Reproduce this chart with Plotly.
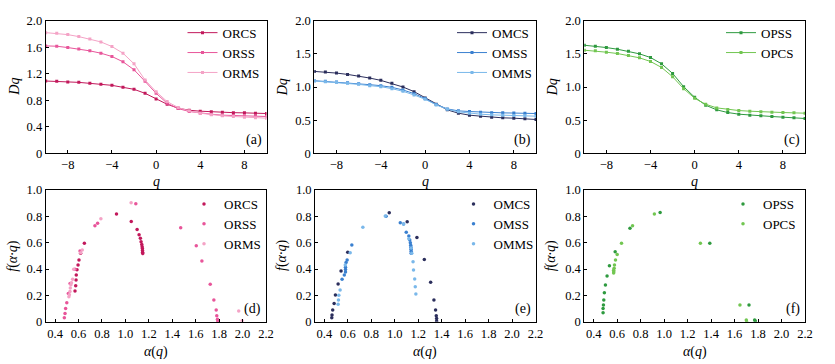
import plotly.graph_objects as go

# ---------------- data ----------------
q = list(range(-10, 11))

ORCS_D = [1.09, 1.085, 1.075, 1.07, 1.055, 1.04, 1.025, 0.995, 0.965, 0.905, 0.82,
          0.74, 0.68, 0.65, 0.635, 0.625, 0.62, 0.613, 0.61, 0.605, 0.60]
ORSS_D = [1.62, 1.615, 1.595, 1.575, 1.545, 1.51, 1.46, 1.38, 1.26, 1.085, 0.905,
          0.755, 0.675, 0.63, 0.605, 0.59, 0.575, 0.57, 0.565, 0.56, 0.555]
ORMS_D = [1.82, 1.81, 1.79, 1.76, 1.725, 1.68, 1.61, 1.51, 1.35, 1.105, 0.93,
          0.78, 0.69, 0.64, 0.605, 0.58, 0.565, 0.555, 0.545, 0.535, 0.53]

OMCS_D = [1.235, 1.225, 1.21, 1.19, 1.165, 1.135, 1.10, 1.055, 1.0, 0.93, 0.835,
          0.74, 0.655, 0.605, 0.575, 0.56, 0.545, 0.535, 0.53, 0.52, 0.51]
OMSS_D = [1.095, 1.085, 1.075, 1.065, 1.05, 1.035, 1.02, 0.995, 0.955, 0.90, 0.825,
          0.735, 0.67, 0.64, 0.63, 0.62, 0.613, 0.61, 0.607, 0.603, 0.60]
OMMS_D = [1.09, 1.08, 1.07, 1.055, 1.04, 1.02, 1.005, 0.975, 0.935, 0.88, 0.815,
          0.73, 0.665, 0.625, 0.605, 0.59, 0.58, 0.575, 0.57, 0.565, 0.56]

OPSS_D = [1.63, 1.615, 1.595, 1.57, 1.54, 1.50, 1.445, 1.35, 1.205, 1.005, 0.845,
          0.725, 0.655, 0.615, 0.59, 0.575, 0.565, 0.555, 0.545, 0.535, 0.525]
OPCS_D = [1.555, 1.545, 1.525, 1.505, 1.475, 1.44, 1.385, 1.295, 1.155, 0.975, 0.83,
          0.74, 0.685, 0.66, 0.645, 0.635, 0.625, 0.62, 0.615, 0.61, 0.605]

ORCS_a = [1.148, 1.147, 1.146, 1.145, 1.143, 1.140, 1.134, 1.128, 1.117, 1.100, 1.050,
          0.924, 0.650, 0.618, 0.604, 0.596, 0.587, 0.581, 0.579, 0.576, 0.570]
ORCS_f = [0.517, 0.527, 0.540, 0.555, 0.570, 0.587, 0.608, 0.633, 0.660, 0.700, 0.760,
          0.818, 0.595, 0.520, 0.468, 0.430, 0.395, 0.354, 0.316, 0.273, 0.233]
ORSS_a = [1.790, 1.789, 1.786, 1.780, 1.775, 1.755, 1.724, 1.653, 1.605, 1.472, 1.089,
          0.763, 0.740, 0.613, 0.570, 0.528, 0.513, 0.500, 0.490, 0.485, 0.479]
ORSS_f = [0.000, 0.005, 0.018, 0.046, 0.089, 0.165, 0.284, 0.461, 0.577, 0.714, 0.896,
          0.747, 0.729, 0.537, 0.398, 0.290, 0.215, 0.144, 0.100, 0.063, 0.030]
ORMS_a = [1.996, 1.967, 1.049, 0.791, 0.632, 0.618, 0.559, 0.550, 0.540, 0.535, 0.530,
          0.527, 0.522, 0.518]
ORMS_f = [0.008, 0.081, 0.904, 0.782, 0.544, 0.524, 0.398, 0.322, 0.295, 0.280, 0.255,
          0.230, 0.205, 0.190]

OMCS_a = [1.357, 1.357, 1.354, 1.348, 1.334, 1.306, 1.252, 1.189, 1.106, 0.953,
          0.599, 0.542, 0.517, 0.494, 0.483, 0.471, 0.465, 0.463]
OMCS_f = [0.005, 0.025, 0.046, 0.089, 0.165, 0.299, 0.473, 0.640, 0.759, 0.828,
          0.527, 0.385, 0.286, 0.203, 0.139, 0.089, 0.050, 0.030]
OMSS_a = [1.140, 1.140, 1.139, 1.138, 1.136, 1.133, 1.128, 1.120, 1.098, 1.075, 1.047,
          0.926, 0.634, 0.594, 0.585, 0.580, 0.580, 0.580, 0.570, 0.551]
OMSS_f = [0.520, 0.535, 0.550, 0.565, 0.580, 0.600, 0.620, 0.650, 0.679, 0.741, 0.752,
          0.800, 0.582, 0.468, 0.450, 0.413, 0.397, 0.377, 0.355, 0.322]
OMMS_a = [1.180, 1.175, 1.170, 1.160, 1.156, 1.145, 1.140, 1.120, 1.075, 0.919, 0.728,
          0.620, 0.578, 0.534, 0.523, 0.520, 0.517]
OMMS_f = [0.210, 0.266, 0.325, 0.393, 0.456, 0.520, 0.560, 0.630, 0.741, 0.802, 0.717,
          0.524, 0.430, 0.241, 0.200, 0.165, 0.132]

OPSS_a = [1.777, 1.771, 1.723, 1.389, 0.966, 0.709, 0.583, 0.534, 0.514, 0.500,
          0.491, 0.486, 0.483, 0.480, 0.480]
OPSS_f = [0.005, 0.013, 0.127, 0.595, 0.830, 0.709, 0.532, 0.425, 0.347, 0.278,
          0.220, 0.165, 0.127, 0.100, 0.068]
OPCS_a = [1.703, 1.700, 1.646, 1.309, 0.917, 0.731, 0.637, 0.600, 0.586, 0.577,
          0.574, 0.571, 0.570, 0.570]
OPCS_f = [0.000, 0.013, 0.127, 0.595, 0.818, 0.729, 0.595, 0.511, 0.468, 0.430,
          0.405, 0.380, 0.390, 0.370]

panel_labels = ["(a)", "(b)", "(c)", "(d)", "(e)", "(f)"]
top_yticks = [[0, 0.4, 0.8, 1.2, 1.6, 2.0], [0, 0.5, 1.0, 1.5, 2.0], [0, 0.5, 1.0, 1.5, 2.0]]
top_xticks = [-8, -4, 0, 4, 8]
bot_xticks = [0.4, 0.6, 0.8, 1.0, 1.2, 1.4, 1.6, 1.8, 2.0, 2.2]
bot_yticks = [0, 0.2, 0.4, 0.6, 0.8, 1.0]

# ---------------- styles ----------------
W, H = 835, 364
FONT = "Liberation Serif"
C = {
    "ORCS": "#c2185b", "ORSS": "#e8559a", "ORMS": "#f4a3c6",
    "OMCS": "#2b2e5c", "OMSS": "#3a80d0", "OMMS": "#7ab8ea",
    "OPSS": "#2e9a3f", "OPCS": "#72c651",
}

def px2x(p):
    return p / W

def px2y(p):
    return 1 - p / H

top_x = [(45.7, 266.5), (314.3, 536.0), (584.3, 805.0)]
bot_x = [(45.7, 266.0), (315.0, 535.5), (584.3, 805.0)]
top_y = (20.7, 153.3)
bot_y = (190.0, 321.7)

fig = go.Figure()

top_series = [
    [("ORCS", ORCS_D), ("ORSS", ORSS_D), ("ORMS", ORMS_D)],
    [("OMCS", OMCS_D), ("OMSS", OMSS_D), ("OMMS", OMMS_D)],
    [("OPSS", OPSS_D), ("OPCS", OPCS_D)],
]
bot_series = [
    [("ORCS", ORCS_a, ORCS_f), ("ORSS", ORSS_a, ORSS_f), ("ORMS", ORMS_a, ORMS_f)],
    [("OMCS", OMCS_a, OMCS_f), ("OMSS", OMSS_a, OMSS_f), ("OMMS", OMMS_a, OMMS_f)],
    [("OPSS", OPSS_a, OPSS_f), ("OPCS", OPCS_a, OPCS_f)],
]

axis_common = dict(showline=True, linecolor="black", linewidth=1, mirror=True,
                   ticks="inside", ticklen=3, tickcolor="black", showgrid=False,
                   zeroline=False, tickfont=dict(family=FONT, size=12.5, color="black"))

layout = dict(width=W, height=H, margin=dict(l=0, r=0, t=0, b=0, autoexpand=False),
              paper_bgcolor="white", plot_bgcolor="white",
              font=dict(family=FONT, size=13, color="black"), annotations=[])

for i in range(3):
    n = 2 * i + 1
    xa = f"xaxis{'' if n == 1 else n}"
    ya = f"yaxis{'' if n == 1 else n}"
    xr = f"x{'' if n == 1 else n}"
    yr = f"y{'' if n == 1 else n}"
    leg = f"legend{'' if n == 1 else n}"
    for name, vals in top_series[i]:
        fig.add_trace(go.Scatter(x=q, y=vals, mode="lines+markers", name=name,
                                 line=dict(color=C[name], width=1),
                                 marker=dict(color=C[name], size=3, symbol="square"),
                                 xaxis=xr, yaxis=yr, legend=leg))
    layout[xa] = dict(axis_common, domain=[px2x(top_x[i][0]), px2x(top_x[i][1])],
                      range=[-10, 10], tickvals=top_xticks,
                      ticktext=[str(t).replace("-", "\u2212") for t in top_xticks],
                      anchor=yr)
    layout[ya] = dict(axis_common, domain=[px2y(top_y[1]), px2y(top_y[0])],
                      range=[0, 2.0], tickvals=top_yticks[i],
                      ticktext=[("0" if t == 0 else f"{t:.1f}") for t in top_yticks[i]],
                      anchor=xr)
    layout[leg] = dict(x=px2x(top_x[i][1] - 84), y=px2y(top_y[0] - 3), xanchor="left",
                       yanchor="top", bgcolor="rgba(0,0,0,0)",
                       font=dict(family=FONT, size=13, color="black"),
                       tracegroupgap=0, itemwidth=30)

    n = 2 * i + 2
    xa = f"xaxis{n}"
    ya = f"yaxis{n}"
    xr = f"x{n}"
    yr = f"y{n}"
    leg = f"legend{n}"
    for name, a, f in bot_series[i]:
        fig.add_trace(go.Scatter(x=a, y=f, mode="markers", name=name,
                                 marker=dict(color=C[name], size=3.5, symbol="circle"),
                                 xaxis=xr, yaxis=yr, legend=leg))
    layout[xa] = dict(axis_common, domain=[px2x(bot_x[i][0]), px2x(bot_x[i][1])],
                      range=[0.32, 2.2], tickvals=bot_xticks,
                      ticktext=[f"{t:.1f}" for t in bot_xticks], anchor=yr)
    layout[ya] = dict(axis_common, domain=[px2y(bot_y[1]), px2y(bot_y[0])],
                      range=[0, 1.0], tickvals=bot_yticks,
                      ticktext=[("0" if t == 0 else f"{t:.1f}") for t in bot_yticks],
                      anchor=xr)
    layout[leg] = dict(x=px2x(bot_x[i][1] - 82), y=px2y(bot_y[0] - 1), xanchor="left",
                       yanchor="top", bgcolor="rgba(0,0,0,0)",
                       font=dict(family=FONT, size=13, color="black"),
                       tracegroupgap=0, itemwidth=30)

ann = layout["annotations"]
for i in range(3):
    # panel labels
    ann.append(dict(text=panel_labels[i], x=px2x(top_x[i][1] - 3), y=px2y(top_y[1] - 3),
                    xref="paper", yref="paper", xanchor="right", yanchor="bottom",
                    showarrow=False, font=dict(family=FONT, size=14)))
    ann.append(dict(text=panel_labels[i + 3], x=px2x(bot_x[i][1] - 3), y=px2y(bot_y[1] - 3),
                    xref="paper", yref="paper", xanchor="right", yanchor="bottom",
                    showarrow=False, font=dict(family=FONT, size=14)))
    # axis titles
    ann.append(dict(text="<i>q</i>", x=px2x((top_x[i][0] + top_x[i][1]) / 2), y=px2y(181),
                    xref="paper", yref="paper", xanchor="center", yanchor="middle",
                    showarrow=False, font=dict(family=FONT, size=14)))
    ann.append(dict(text="<i>\u03b1</i>(<i>q</i>)", x=px2x((bot_x[i][0] + bot_x[i][1]) / 2),
                    y=px2y(352), xref="paper", yref="paper", xanchor="center",
                    yanchor="middle", showarrow=False, font=dict(family=FONT, size=14)))
    ann.append(dict(text="<i>Dq</i>", x=px2x(top_x[i][0] - 32), y=px2y(87),
                    xref="paper", yref="paper", xanchor="center", yanchor="middle",
                    textangle=-90, showarrow=False, font=dict(family=FONT, size=14)))
    ann.append(dict(text="<i>f</i>(<i>\u03b1\u00b7q</i>)", x=px2x(bot_x[i][0] - 33),
                    y=px2y(256), xref="paper", yref="paper", xanchor="center",
                    yanchor="middle", textangle=-90, showarrow=False,
                    font=dict(family=FONT, size=14)))

fig.update_layout(**layout)
fig.write_html("out.html", config={"displayModeBar": False},
               post_script="document.body.style.margin='0';")
